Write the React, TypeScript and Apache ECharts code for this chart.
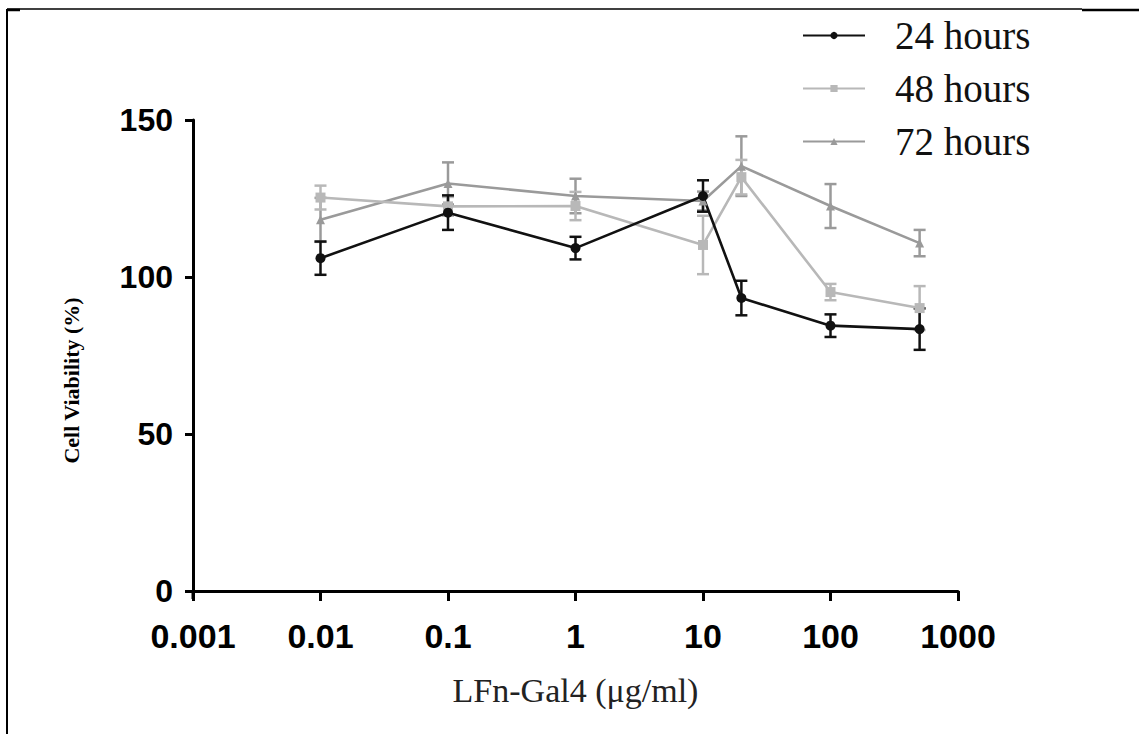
import React, { useEffect, useRef } from "react";
import * as echarts from "echarts";

// Concentrations of LFn-Gal4 (µg/ml)
const concentrations = [0.01, 0.1, 1, 10, 20, 100, 500];

// Mean cell viability (%) and error (±) per time point
const viability24h = [106, 120.5, 109.2, 125.8, 93.3, 84.5, 83.4];
const error24h = [5.3, 5.5, 3.6, 5, 5.5, 3.6, 6.6];

const viability48h = [125.3, 122.5, 122.6, 110.2, 131.8, 95.2, 90.1];
const error48h = [3.8, 3, 4.5, 9.3, 5.5, 2.6, 7];

const viability72h = [118.2, 129.8, 125.8, 124.2, 135.3, 122.6, 110.8];
const error72h = [7, 6.7, 5.5, 3, 9.5, 7, 4.2];

const seriesNames = ["24 hours", "48 hours", "72 hours"];
const xTickLabels = ["0.001", "0.01", "0.1", "1", "10", "100", "1000"];

const colors = { h24: "#111111", h48: "#b8b8b8", h72: "#9a9a9a" };

function lineSeries(name: string, values: number[], color: string, symbol: string, size: number) {
  return {
    name,
    type: "line",
    data: concentrations.map((c, i) => [c, values[i]]),
    symbol,
    symbolSize: size,
    itemStyle: { color },
    lineStyle: { color, width: 2.6 },
    z: 3,
  };
}

function errorSeries(id: string, values: number[], errors: number[], color: string) {
  return {
    id,
    name: id,
    type: "custom",
    data: concentrations.map((c, i) => [c, values[i], errors[i]]),
    encode: { x: 0, y: 1 },
    itemStyle: { color },
    z: 2,
    renderItem: (_params: any, api: any) => {
      const x = api.value(0);
      const y = api.value(1);
      const e = api.value(2);
      const top = api.coord([x, y + e]);
      const bottom = api.coord([x, y - e]);
      const half = 6;
      const style = { stroke: color, lineWidth: 2.5 };
      return {
        type: "group",
        children: [
          { type: "line", shape: { x1: top[0], y1: top[1], x2: bottom[0], y2: bottom[1] }, style },
          { type: "line", shape: { x1: top[0] - half, y1: top[1], x2: top[0] + half, y2: top[1] }, style },
          { type: "line", shape: { x1: bottom[0] - half, y1: bottom[1], x2: bottom[0] + half, y2: bottom[1] }, style },
        ],
      };
    },
  };
}

export default function App() {
  const ref = useRef<HTMLDivElement>(null);

  useEffect(() => {
    if (!ref.current) return;
    const chart = echarts.init(ref.current, null, { renderer: "svg" });
    chart.setOption({
      animation: false,
      backgroundColor: "#ffffff",
      grid: { left: 193, right: 181, top: 120, bottom: 143 },
      legend: {
        data: seriesNames,
        orient: "vertical",
        left: 797,
        top: 10,
        itemWidth: 62,
        itemHeight: 9,
        itemGap: 12,
        textStyle: {
          fontFamily: "Liberation Serif",
          fontSize: 39,
          color: "#111",
          padding: [0, 0, 0, 25],
          lineHeight: 41,
        },
      },
      xAxis: {
        type: "log",
        logBase: 10,
        min: 0.001,
        max: 1000,
        name: "LFn-Gal4 (\u03bcg/ml)",
        nameLocation: "middle",
        nameGap: 82,
        nameTextStyle: { fontFamily: "Liberation Serif", fontSize: 34, color: "#222" },
        axisLine: { lineStyle: { color: "#000", width: 3 } },
        axisTick: { length: 10, lineStyle: { color: "#000", width: 3 } },
        axisLabel: {
          margin: 28,
          fontFamily: "Liberation Sans",
          fontWeight: "bold",
          fontSize: 34,
          color: "#000",
          formatter: (v: number) => {
            const idx = Math.round(Math.log10(v)) + 3;
            return xTickLabels[idx] ?? String(v);
          },
        },
        splitLine: { show: false },
        minorTick: { show: false },
      },
      yAxis: {
        type: "value",
        min: 0,
        max: 150,
        interval: 50,
        name: "Cell Viability (%)",
        nameLocation: "middle",
        nameGap: 111,
        nameTextStyle: {
          fontFamily: "Liberation Serif",
          fontWeight: "bold",
          fontSize: 22,
          color: "#000",
          padding: [0, 50, 0, 0],
        },
        axisLine: { show: true, lineStyle: { color: "#000", width: 3 } },
        axisTick: { show: true, length: 8, lineStyle: { color: "#000", width: 3 } },
        axisLabel: {
          margin: 20,
          fontFamily: "Liberation Sans",
          fontWeight: "bold",
          fontSize: 32,
          color: "#000",
        },
        splitLine: { show: false },
      },
      graphic: [
        { type: "line", shape: { x1: 7, y1: 9, x2: 7, y2: 734 }, style: { stroke: "#000", lineWidth: 2 } },
        { type: "line", shape: { x1: 7, y1: 9, x2: 1082, y2: 9 }, style: { stroke: "#000", lineWidth: 1.5 } },
        { type: "line", shape: { x1: 1082, y1: 10, x2: 1139, y2: 10 }, style: { stroke: "#000", lineWidth: 2.5 } },
        { type: "line", shape: { x1: 7, y1: 10, x2: 20, y2: 10 }, style: { stroke: "#000", lineWidth: 2.5 } },
        // short continuation of the y-axis below the origin
        { type: "line", shape: { x1: 193, y1: 591, x2: 193, y2: 599 }, style: { stroke: "#000", lineWidth: 3 } },
      ],
      series: [
        errorSeries("err72", viability72h, error72h, colors.h72),
        errorSeries("err48", viability48h, error48h, colors.h48),
        errorSeries("err24", viability24h, error24h, colors.h24),
        lineSeries("72 hours", viability72h, colors.h72, "triangle", 9),
        lineSeries("48 hours", viability48h, colors.h48, "rect", 10),
        lineSeries("24 hours", viability24h, colors.h24, "circle", 10),
      ],
    });
    return () => chart.dispose();
  }, []);

  return (
    <div
      ref={ref}
      style={{ position: "fixed", left: 0, top: 0, width: 1139, height: 734, background: "#fff" }}
    />
  );
}
